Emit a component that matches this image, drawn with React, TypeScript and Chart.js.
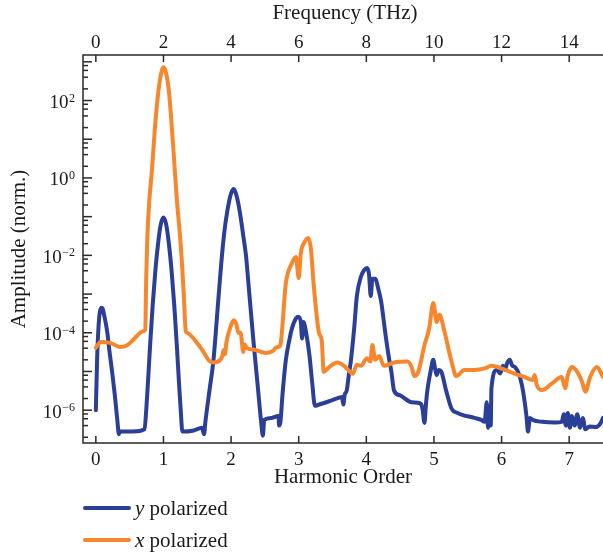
import { useEffect, useRef } from "react";
import { Chart, registerables } from "chart.js";

Chart.register(...registerables);

// ---- data (harmonic order vs normalized amplitude) ----
const harmonicYPol = [0.00,0.02,0.05,0.09,0.13,0.17,0.20,0.24,0.28,0.32,0.34,0.36,0.55,0.72,0.745,0.77,0.80,0.84,0.88,0.92,0.96,1.00,1.04,1.08,1.12,1.16,1.20,1.23,1.255,1.28,1.45,1.57,1.60,1.62,1.68,1.74,1.80,1.85,1.90,1.95,2.00,2.04,2.08,2.13,2.18,2.22,2.27,2.33,2.39,2.45,2.47,2.49,2.60,2.70,2.71,2.73,2.76,2.81,2.86,2.90,2.95,2.99,3.03,3.05,3.07,3.11,3.16,3.20,3.24,3.30,3.45,3.60,3.64,3.66,3.68,3.71,3.74,3.77,3.82,3.86,3.92,3.97,4.01,4.04,4.065,4.09,4.13,4.18,4.22,4.28,4.33,4.37,4.41,4.50,4.67,4.80,4.83,4.86,4.88,4.90,4.95,4.99,5.02,5.04,5.07,5.11,5.18,5.26,5.35,5.60,5.70,5.75,5.78,5.80,5.82,5.84,5.85,5.93,5.98,6.02,6.05,6.08,6.12,6.16,6.20,6.30,6.37,6.39,6.42,6.46,6.60,6.80,6.89,6.92,6.95,6.98,7.01,7.04,7.08,7.12,7.16,7.20,7.24,7.30,7.40,7.46,7.50];
const amplitudeYPol = [1.0e-6,2.5e-5,2.5e-4,4.4e-4,2.5e-4,1.0e-4,3.5e-5,1.0e-5,2.5e-6,5.0e-7,2.4e-7,2.8e-7,2.8e-7,3.2e-7,1.0e-6,5.0e-6,4.0e-5,5.0e-4,4.0e-3,2.0e-2,6.3e-2,9.5e-2,6.3e-2,2.0e-2,4.0e-3,5.0e-4,4.0e-5,5.0e-6,1.0e-6,2.8e-7,3.0e-7,3.5e-7,2.4e-7,5.0e-7,3.2e-6,2.0e-5,4.0e-4,5.0e-3,4.0e-2,0.16,0.40,0.52,0.35,0.13,3.2e-2,1.0e-2,1.0e-3,6.3e-5,5.0e-6,4.0e-7,2.2e-7,5.6e-7,6.3e-7,7.1e-7,4.0e-7,5.0e-7,2.5e-6,2.0e-5,6.3e-5,1.3e-4,2.2e-4,2.6e-4,2.0e-4,7.1e-5,1.9e-4,1.0e-4,2.5e-5,5.0e-6,1.3e-6,1.4e-6,1.7e-6,2.1e-6,2.2e-6,1.4e-6,2.5e-6,3.2e-6,7.9e-6,1.8e-5,1.3e-4,8.9e-4,2.8e-3,4.2e-3,4.7e-3,3.2e-3,8.9e-4,2.5e-3,2.5e-3,1.3e-3,6.3e-4,1.0e-4,2.5e-5,1.0e-5,3.2e-6,2.4e-6,1.6e-6,1.5e-6,1.1e-6,4.7e-7,1.3e-6,3.0e-6,1.0e-5,2.0e-5,1.1e-5,8.1e-6,1.1e-5,9.8e-6,3.2e-6,1.1e-6,8.5e-7,6.3e-7,5.6e-7,5.0e-7,1.6e-6,3.5e-7,1.3e-6,4.0e-7,3.7e-6,1.1e-5,8.9e-6,1.4e-5,1.1e-5,1.6e-5,2.0e-5,1.4e-5,1.3e-5,4.5e-6,6.6e-7,2.8e-7,6.3e-7,5.6e-7,5.0e-7,4.8e-7,5.0e-7,7.9e-7,4.0e-7,8.5e-7,3.5e-7,7.1e-7,4.0e-7,7.9e-7,3.5e-7,6.3e-7,3.2e-7,3.8e-7,3.7e-7,4.5e-7,6.3e-7];

const harmonicXPol = [0.00,0.07,0.21,0.36,0.45,0.55,0.70,0.73,0.745,0.76,0.79,0.83,0.87,0.91,0.95,1.00,1.04,1.08,1.12,1.16,1.20,1.24,1.27,1.30,1.33,1.35,1.55,1.69,1.74,1.84,1.87,1.89,1.91,1.93,1.99,2.04,2.08,2.11,2.14,2.18,2.20,2.23,2.36,2.51,2.62,2.66,2.70,2.73,2.81,2.90,2.96,3.00,3.03,3.08,3.14,3.18,3.22,3.30,3.34,3.37,3.45,3.57,3.67,3.73,3.80,3.86,3.92,4.01,4.06,4.09,4.13,4.19,4.26,4.41,4.61,4.67,4.71,4.77,4.86,4.93,4.99,5.04,5.08,5.16,5.26,5.33,5.45,5.60,5.75,5.85,6.05,6.20,6.34,6.46,6.49,6.52,6.60,6.75,6.89,6.94,6.98,7.04,7.12,7.19,7.24,7.31,7.41,7.50];
const amplitudeXPol = [4.1e-5,5.8e-5,5.5e-5,4.3e-5,4.6e-5,6.5e-5,1.1e-4,1.2e-4,2.5e-3,2.5e-2,0.25,1.6,16,100,355,720,500,178,25,2.5,0.25,0.04,7.9e-3,1.0e-3,1.1e-4,1.0e-4,4.1e-5,1.8e-5,1.7e-5,2.0e-5,2.5e-5,3.6e-5,2.8e-5,5.5e-5,1.4e-4,2.1e-4,1.6e-4,1.0e-4,1.0e-4,3.2e-5,5.0e-5,4.1e-5,3.6e-5,3.0e-5,3.4e-5,4.1e-5,4.3e-5,5.0e-5,1.9e-3,6.3e-3,9.1e-3,2.6e-3,1.1e-2,2.1e-2,2.8e-2,1.5e-2,1.9e-3,1.0e-4,6.5e-5,9.8e-6,1.3e-5,1.7e-5,1.4e-5,1.1e-5,8.7e-6,1.5e-5,1.4e-5,2.2e-5,1.8e-5,4.8e-5,2.0e-5,2.5e-5,1.4e-5,1.7e-5,1.8e-5,1.3e-5,7.6e-6,1.0e-5,4.8e-5,1.3e-4,5.9e-4,1.9e-4,2.9e-4,1.0e-4,1.8e-5,7.6e-6,1.1e-5,1.1e-5,1.2e-5,1.4e-5,1.1e-5,8.7e-6,7.2e-6,6.0e-6,8.1e-6,4.5e-6,3.3e-6,5.0e-6,7.2e-6,3.7e-6,8.1e-6,1.3e-5,9.8e-6,5.4e-6,3.0e-6,7.2e-6,1.3e-5,7.2e-6];

const harmonicTicks = [0, 1, 2, 3, 4, 5, 6, 7];
const frequencyTicks = [0, 2, 4, 6, 8, 10, 12, 14];
const amplitudeLabelExponents = [2, 0, -2, -4, -6];
const decadeExponents = [-7, -6, -5, -4, -3, -2, -1, 0, 1, 2, 3];
const minorMultipliers = [2, 4, 6, 8];

const BLUE = "#2c3f98";
const ORANGE = "#f7862d";
const AXIS = "#2a2a2a";
const FONT = '"Liberation Serif", "Times New Roman", serif';

const legendEntries = [
  { symbol: "y", text: " polarized", color: BLUE },
  { symbol: "x", text: " polarized", color: ORANGE },
];

const X_MIN = -0.19;
const X_MAX = 7.5;
const Y_MIN = 1.42e-7;
const Y_MAX = 1.5e3;

const decorPlugin = {
  id: "decor",
  afterDatasetsDraw(chart: any) {
    const { ctx, chartArea } = chart;
    const { left, right, top, bottom } = chartArea;
    const xs = chart.scales.x;
    const xf = chart.scales.xf;
    const ys = chart.scales.y;
    ctx.save();
    ctx.strokeStyle = AXIS;
    ctx.fillStyle = "#1a1a1a";
    ctx.lineWidth = 1.5;
    ctx.lineCap = "butt";

    ctx.beginPath();
    ctx.moveTo(right, top);
    ctx.lineTo(left, top);
    ctx.lineTo(left, bottom);
    ctx.lineTo(right, bottom);
    ctx.stroke();

    ctx.font = `19px ${FONT}`;
    ctx.textAlign = "center";
    ctx.textBaseline = "alphabetic";
    harmonicTicks.forEach((v) => {
      const px = xs.getPixelForValue(v);
      ctx.beginPath();
      ctx.moveTo(px, bottom);
      ctx.lineTo(px, bottom - 7);
      ctx.stroke();
      ctx.fillText(String(v), px, bottom + 22);
    });

    frequencyTicks.forEach((v) => {
      const px = xf.getPixelForValue(v);
      ctx.beginPath();
      ctx.moveTo(px, top);
      ctx.lineTo(px, top + 7);
      ctx.stroke();
      ctx.fillText(String(v), px, top - 7);
    });

    decadeExponents.forEach((e) => {
      const base = Math.pow(10, e);
      if (base >= Y_MIN && base <= Y_MAX) {
        const major = ys.getPixelForValue(base);
        ctx.beginPath();
        ctx.moveTo(left, major);
        ctx.lineTo(left + 9, major);
        ctx.stroke();
      }
      minorMultipliers.forEach((m) => {
        const v = m * base;
        if (v < Y_MIN || v > Y_MAX) return;
        const py = ys.getPixelForValue(v);
        ctx.beginPath();
        ctx.moveTo(left, py);
        ctx.lineTo(left + 5, py);
        ctx.stroke();
      });
    });

    amplitudeLabelExponents.forEach((e) => {
      const py = ys.getPixelForValue(Math.pow(10, e));
      const expText = e < 0 ? `\u2212${-e}` : String(e);
      ctx.textAlign = "right";
      ctx.font = `12px ${FONT}`;
      const expW = ctx.measureText(expText).width;
      const xr = left - 8;
      ctx.fillText(expText, xr, py + 1);
      ctx.font = `19px ${FONT}`;
      ctx.fillText("10", xr - expW - 0.5, py + 7.5);
    });

    ctx.font = `21px ${FONT}`;
    ctx.textAlign = "center";
    const cx = (left + right) / 2;
    ctx.fillText("Frequency (THz)", cx + 2, 19);
    ctx.fillText("Harmonic Order", cx, bottom + 40);
    ctx.save();
    ctx.translate(25, (top + bottom) / 2);
    ctx.rotate(-Math.PI / 2);
    ctx.fillText("Amplitude (norm.)", 0, 0);
    ctx.restore();

    legendEntries.forEach((entry, i) => {
      const ly = 508 + i * 32;
      ctx.strokeStyle = entry.color;
      ctx.lineWidth = 4;
      ctx.lineCap = "round";
      ctx.beginPath();
      ctx.moveTo(85, ly);
      ctx.lineTo(129, ly);
      ctx.stroke();
      ctx.textAlign = "left";
      ctx.font = `italic 21px ${FONT}`;
      ctx.fillText(entry.symbol, 135, ly + 7);
      const w = ctx.measureText(entry.symbol).width;
      ctx.font = `21px ${FONT}`;
      ctx.fillText(entry.text, 135 + w, ly + 7);
    });

    ctx.restore();
  },
};

export default function App() {
  const canvasRef = useRef<HTMLCanvasElement | null>(null);

  useEffect(() => {
    if (!canvasRef.current) return;
    const common = {
      borderWidth: 4,
      pointRadius: 0,
      cubicInterpolationMode: "monotone",
      borderJoinStyle: "round",
      borderCapStyle: "round",
    };
    const chart = new Chart(canvasRef.current, {
      type: "line",
      data: {
        datasets: [
          {
            ...common,
            label: "x polarized",
            data: harmonicXPol.map((h, i) => ({ x: h, y: amplitudeXPol[i] })),
            borderColor: ORANGE,
            backgroundColor: ORANGE,
            order: 0,
          },
          {
            ...common,
            label: "y polarized",
            data: harmonicYPol.map((h, i) => ({ x: h, y: amplitudeYPol[i] })),
            borderColor: BLUE,
            backgroundColor: BLUE,
            order: 1,
          },
        ],
      },
      options: {
        animation: false,
        responsive: false,
        devicePixelRatio: 1,
        layout: { padding: { left: 83, top: 55, right: 0, bottom: 113 } },
        scales: {
          x: { type: "linear", min: X_MIN, max: X_MAX, display: false },
          xf: { type: "linear", axis: "x", position: "top", min: 2 * X_MIN, max: 2 * X_MAX, display: false },
          y: { type: "logarithmic", min: Y_MIN, max: Y_MAX, display: false },
        },
        plugins: {
          legend: { display: false },
          tooltip: { enabled: false },
        },
      } as any,
      plugins: [decorPlugin],
    } as any);
    return () => chart.destroy();
  }, []);

  return (
    <div style={{ position: "absolute", left: 0, top: 0, width: 603, height: 556, background: "#fff" }}>
      <canvas ref={canvasRef} width={603} height={556} style={{ display: "block" }} />
    </div>
  );
}
